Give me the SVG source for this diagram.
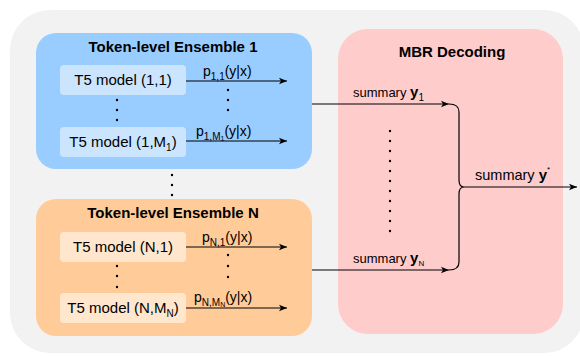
<svg xmlns="http://www.w3.org/2000/svg" width="580" height="356" viewBox="0 0 580 356">
<defs>
<marker id="ah" markerWidth="10" markerHeight="10" refX="9" refY="5" orient="auto" markerUnits="userSpaceOnUse">
<path d="M1,1.8 L9,5 L1,8.2 L3,5 Z" fill="#000"/>
</marker>
<style>
text{font-family:"Liberation Sans",Arial,sans-serif;fill:#000}
.t{font-size:15px;font-weight:bold;text-anchor:middle}
.m{font-size:15px;text-anchor:middle}
.p{font-size:14px}
.s{font-size:13px}
.c{fill:none;stroke:#000;stroke-width:1.2}
.a{marker-end:url(#ah)}
.d{fill:#000}
</style>
</defs>
<rect x="10" y="10" width="574" height="343" rx="40" fill="#f2f2f2"/>
<g id="ensemble1">
<rect x="36" y="33" width="276" height="136" rx="20" fill="#99ccff"/>
<text class="t" x="173" y="52">Token-level Ensemble 1</text>
</g>
<g id="model11">
<rect x="60" y="65" width="126" height="30" rx="4" fill="#cce5ff"/>
<text class="m" x="123" y="85">T5 model (1,1)</text>
</g>
<g id="model1M">
<rect x="60" y="127" width="126" height="30" rx="4" fill="#cce5ff"/>
<text class="m" x="123" y="147">T5 model (1,M<tspan font-size="10" dy="4">1</tspan><tspan dy="-4">)</tspan></text>
</g>
<g id="ensembleN">
<rect x="36" y="199" width="276" height="137" rx="20" fill="#ffcc99"/>
<text class="t" x="173" y="218">Token-level Ensemble N</text>
</g>
<g id="modelN1">
<rect x="60" y="232" width="126" height="30" rx="4" fill="#ffe6cc"/>
<text class="m" x="123" y="252">T5 model (N,1)</text>
</g>
<g id="modelNM">
<rect x="60" y="293" width="126" height="30" rx="4" fill="#ffe6cc"/>
<text class="m" x="123" y="313">T5 model (N,M<tspan font-size="10" dy="4">N</tspan><tspan dy="-4">)</tspan></text>
</g>
<g id="mbr">
<rect x="338" y="29" width="225" height="305" rx="30" fill="#ffcccc"/>
<text class="t" x="452" y="57">MBR Decoding</text>
</g>
<g id="dots">
<circle class="d" cx="117" cy="100" r="1.2"/><circle class="d" cx="117" cy="110" r="1.2"/><circle class="d" cx="117" cy="120" r="1.2"/>
<circle class="d" cx="228" cy="90" r="1.2"/><circle class="d" cx="228" cy="100" r="1.2"/><circle class="d" cx="228" cy="110" r="1.2"/>
<circle class="d" cx="172" cy="175" r="1.2"/><circle class="d" cx="172" cy="185" r="1.2"/><circle class="d" cx="172" cy="195" r="1.2"/>
<circle class="d" cx="117" cy="266" r="1.2"/><circle class="d" cx="117" cy="276" r="1.2"/><circle class="d" cx="117" cy="287" r="1.2"/>
<circle class="d" cx="228" cy="255" r="1.2"/><circle class="d" cx="228" cy="266" r="1.2"/><circle class="d" cx="228" cy="277" r="1.2"/>
<circle class="d" cx="390" cy="131" r="1.2"/><circle class="d" cx="390" cy="141" r="1.2"/><circle class="d" cx="390" cy="151" r="1.2"/><circle class="d" cx="390" cy="161" r="1.2"/><circle class="d" cx="390" cy="171" r="1.2"/><circle class="d" cx="390" cy="181" r="1.2"/><circle class="d" cx="390" cy="191" r="1.2"/><circle class="d" cx="390" cy="201" r="1.2"/><circle class="d" cx="390" cy="211" r="1.2"/><circle class="d" cx="390" cy="221" r="1.2"/><circle class="d" cx="390" cy="231" r="1.2"/>
</g>
<g id="connectors">
<path class="c a" d="M186,81 H287"/>
<path class="c a" d="M186,141 H287"/>
<path class="c a" d="M186,247 H287"/>
<path class="c a" d="M186,308 H287"/>
<path class="c a" d="M312,104 H449"/>
<path class="c a" d="M312,270 H449"/>
<path class="c" d="M449,104 Q459,104 459,112 V180 Q459,187 464,187 Q459,187 459,194 V262 Q459,270 449,270"/>
<path class="c a" d="M464,187 H577"/>
<text class="p" x="203" y="76">p<tspan font-size="10" dy="4">1,1</tspan><tspan dy="-4">(y|x)</tspan></text>
<text class="p" x="196" y="136">p<tspan font-size="10" dy="4">1,M</tspan><tspan font-size="7" dy="1">1</tspan><tspan dy="-5">(y|x)</tspan></text>
<text class="p" x="202" y="242">p<tspan font-size="10" dy="4">N,1</tspan><tspan dy="-4">(y|x)</tspan></text>
<text class="p" x="194" y="302">p<tspan font-size="10" dy="4">N,M</tspan><tspan font-size="7" dy="1">N</tspan><tspan dy="-5">(y|x)</tspan></text>
<text class="s" x="353" y="97">summary <tspan font-weight="bold" font-size="15">y</tspan><tspan font-size="10" dy="4">1</tspan></text>
<text class="s" x="353" y="263">summary <tspan font-weight="bold" font-size="15">y</tspan><tspan font-size="8" dy="3">N</tspan></text>
<text x="475" y="180" style="font-size:14.5px">summary <tspan font-weight="bold" font-size="15">y</tspan><tspan font-size="8" dy="-8">*</tspan></text>
</g>
</svg>
